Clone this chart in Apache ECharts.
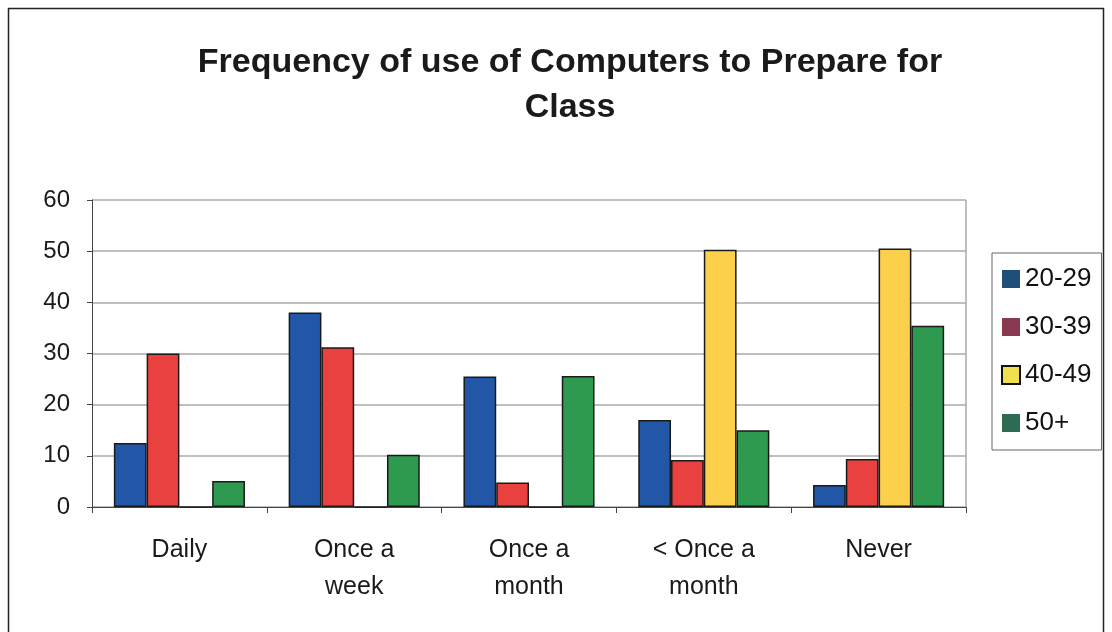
<!DOCTYPE html>
<html><head><meta charset="utf-8">
<script src="https://cdn.jsdelivr.net/npm/echarts@6/dist/echarts.min.js"></script>
<style>html,body{margin:0;padding:0;background:#fff}#c{width:1112px;height:632px}</style>
</head><body><div id="c"></div>
<script>
var categories = ['Daily', 'Once a\nweek', 'Once a\nmonth', '< Once a\nmonth', 'Never'];
var seriesNames = ['20-29', '30-39', '40-49', '50+'];
var s2029 = [12.5, 38, 25.5, 17, 4.3];
var s3039 = [30, 31.2, 4.8, 9.2, 9.4];
var s4049 = [0, 0, 0, 50.3, 50.5];
var s50p = [5.1, 10.2, 25.6, 15, 35.4];
var yTicks = [0, 10, 20, 30, 40, 50, 60];

var barColors = ['#2257a8', '#e8413f', '#fdd04c', '#2e9a4f'];
var legendColors = ['#1f4e7a', '#8a3a50', '#f0e050', '#2d6b52'];
var values = [s2029, s3039, s4049, s50p];

var chart = echarts.init(document.getElementById('c'));
var font = "'Liberation Sans', Arial, sans-serif";
chart.setOption({
  animation: false,
  backgroundColor: '#fff',
  title: {
    text: 'Frequency of use of Computers to Prepare for\nClass',
    left: 565, top: 35, textAlign: 'center',
    textStyle: {fontFamily: font, fontSize: 34, fontWeight: 'bold', color: '#1a1a1a', lineHeight: 45}
  },
  graphic: [{type: 'rect', shape: {x: 8.5, y: 8.5, width: 1095, height: 640}, style: {fill: 'none', stroke: '#222', lineWidth: 1.5}, silent: true}],
  legend: {
    orient: 'vertical', left: 992, top: 253,
    padding: [13, 10, 14, 9], itemGap: 22,
    itemWidth: 18, itemHeight: 18,
    borderColor: '#666', borderWidth: 1,
    textStyle: {fontFamily: font, fontSize: 26, color: '#111'},
    data: seriesNames.map(function(n, i){
      return {name: n, icon: 'rect', itemStyle: {color: legendColors[i], borderColor: i === 2 ? '#111' : legendColors[i], borderWidth: i === 2 ? 2 : 0}};
    })
  },
  grid: {left: 92, right: 146, top: 200, bottom: 125},
  xAxis: {
    type: 'category', data: categories,
    axisLine: {lineStyle: {color: '#444', width: 1}},
    axisTick: {show: true, inside: false, length: 6, lineStyle: {color: '#444'}},
    axisLabel: {fontFamily: font, fontSize: 25, color: '#1a1a1a', margin: 25, lineHeight: 37}
  },
  yAxis: {
    type: 'value', min: yTicks[0], max: yTicks[yTicks.length - 1], interval: 10,
    axisLine: {show: true, lineStyle: {color: '#444'}},
    axisTick: {show: true, length: 5, lineStyle: {color: '#444'}},
    splitLine: {lineStyle: {color: '#aaa', width: 1.5}},
    axisLabel: {fontFamily: font, fontSize: 24, color: '#1a1a1a', margin: 22}
  },
  series: seriesNames.map(function(n, i){
    return {
      name: n, type: 'bar', data: values[i],
      barGap: '0%', barCategoryGap: '25%',
      itemStyle: {color: barColors[i], borderColor: '#1a1a1a', borderWidth: 1.5},
      emphasis: {disabled: true}
    };
  }).concat([{
    type: 'line', data: [], markLine: {
      silent: true, symbol: 'none', label: {show: false},
      lineStyle: {color: '#aaa', width: 1.5, type: 'solid'},
      data: [[{x: 966, y: 507}, {x: 966, y: 200}]]
    }
  }])
});
</script></body></html>
